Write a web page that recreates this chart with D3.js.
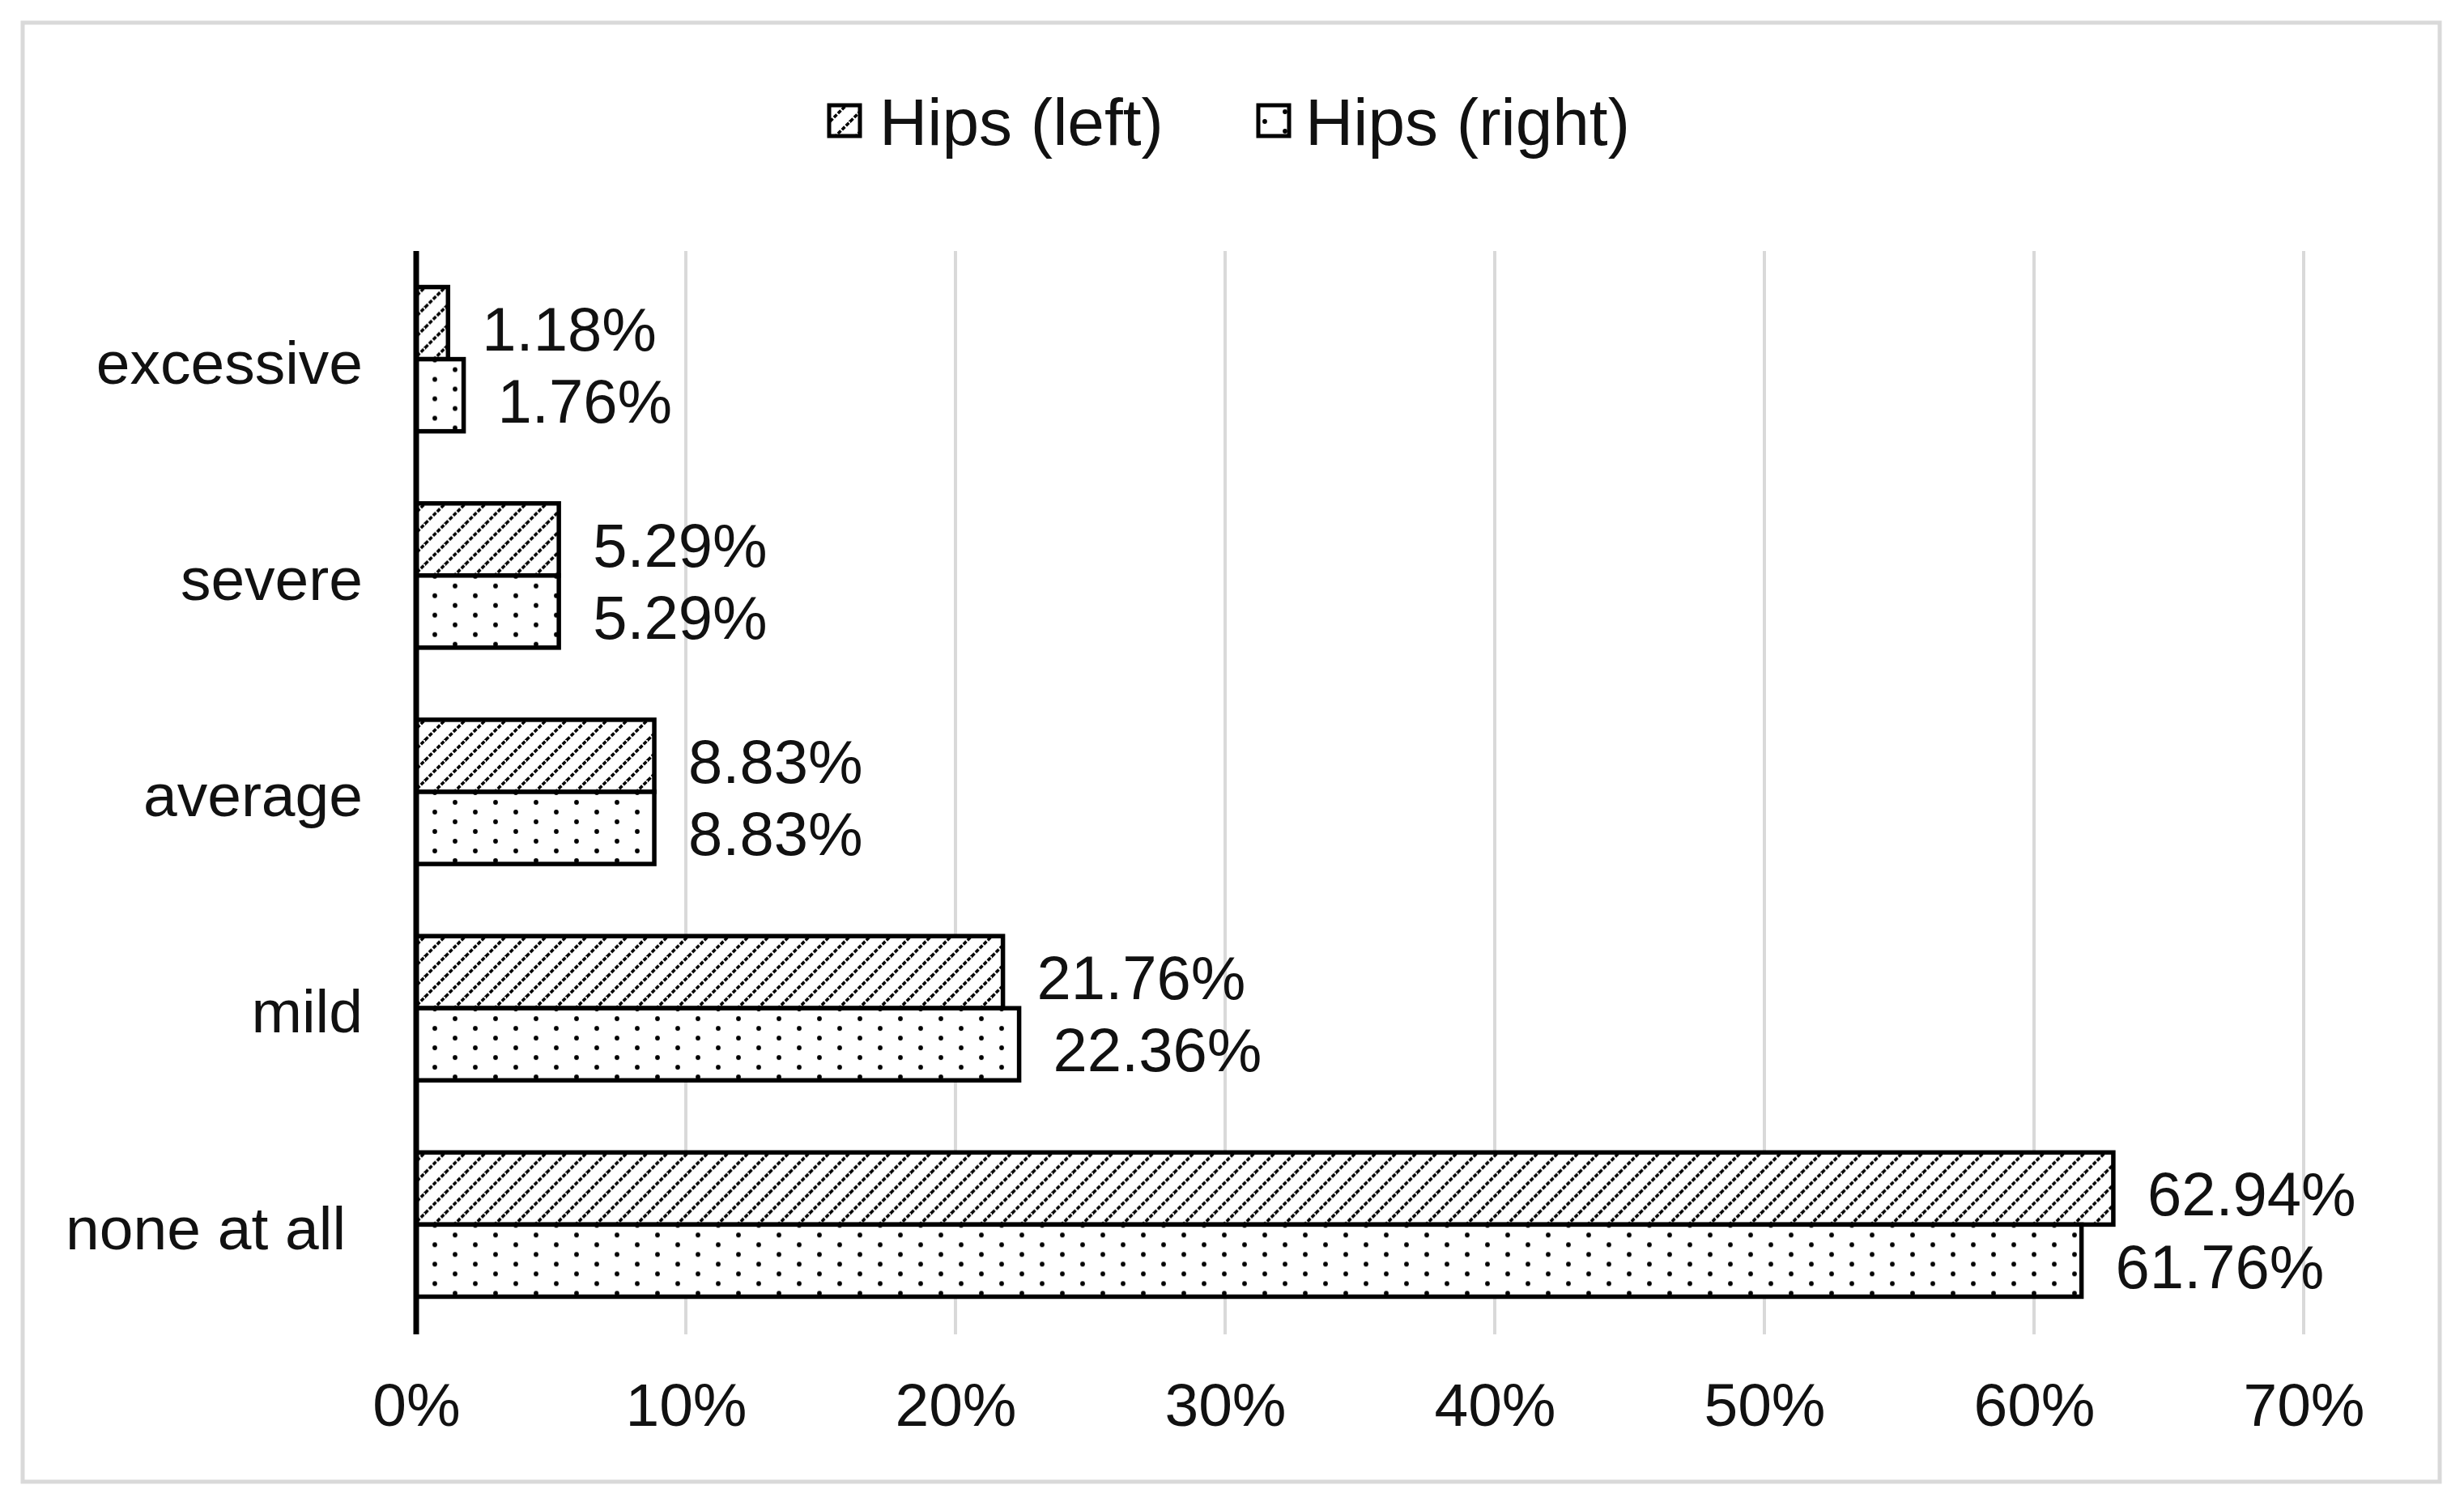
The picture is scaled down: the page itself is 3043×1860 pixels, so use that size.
<!DOCTYPE html>
<html>
<head>
<meta charset="utf-8">
<script src="https://cdn.jsdelivr.net/npm/d3@7"></script>
<style>
  html, body { margin: 0; padding: 0; background: #fff; }
  svg text { font-family: "Liberation Sans", Arial, sans-serif; fill: #111; }
</style>
</head>
<body>
<svg id="chart" width="3043" height="1860"></svg>
<script>
// ---- data ----
const categories = ["excessive", "severe", "average", "mild", "none at all"];
const seriesNames = ["Hips (left)", "Hips (right)"];
const hipsLeft  = [1.18, 5.29, 8.83, 21.76, 62.94];
const hipsRight = [1.76, 5.29, 8.83, 22.36, 61.76];
const xTicks = [0, 10, 20, 30, 40, 50, 60, 70];

const seriesValues = [hipsLeft, hipsRight];
const rows = categories.map((c, i) => ({
  cat: c,
  vals: seriesNames.map((s, k) => ({ series: s, k, v: seriesValues[k][i] }))
}));

const svg = d3.select("#chart");
const W = 3043, H = 1860;
svg.append("rect").attr("x", 0).attr("y", 0).attr("width", W).attr("height", H).attr("fill", "#fff");

// ---- patterns ----
const defs = svg.append("defs");
const hatch = defs.append("pattern").attr("id", "hatch").attr("patternUnits", "userSpaceOnUse")
  .attr("width", 25).attr("height", 25);
hatch.append("rect").attr("width", 25).attr("height", 25).attr("fill", "#fff");
hatch.append("path").attr("d", "M-6,6 L6,-6 M0,25 L25,0 M19,31 L31,19")
  .attr("stroke", "#000").attr("stroke-width", 3.6).attr("stroke-dasharray", "5,2");

const dots = defs.append("pattern").attr("id", "dots").attr("patternUnits", "userSpaceOnUse")
  .attr("width", 50).attr("height", 24);
dots.append("rect").attr("width", 50).attr("height", 24).attr("fill", "#fff");
dots.append("circle").attr("cx", 12).attr("cy", 6).attr("r", 2.9).attr("fill", "#000");
dots.append("circle").attr("cx", 37).attr("cy", 18).attr("r", 2.9).attr("fill", "#000");

const fills = ["url(#hatch)", "url(#dots)"];

// ---- frame ----
svg.append("rect").attr("x", 28).attr("y", 28).attr("width", 2985).attr("height", 1802)
  .attr("fill", "none").attr("stroke", "#d9d9d9").attr("stroke-width", 5);

// ---- scales ----
const x = d3.scaleLinear().domain([0, 70]).range([514, 2845]);
const y0 = d3.scaleBand().domain(categories).range([310, 1646])
  .paddingInner(1/3).paddingOuter(1/6);
const y1 = d3.scaleBand().domain(seriesNames).range([0, y0.bandwidth()]);

// ---- gridlines ----
svg.append("g").selectAll("line").data(xTicks).join("line")
  .attr("x1", d => x(d)).attr("x2", d => x(d))
  .attr("y1", 310).attr("y2", 1648)
  .attr("stroke", "#d9d9d9").attr("stroke-width", 4);

// ---- x tick labels ----
const xAxis = d3.axisBottom(x).tickValues(xTicks).tickFormat(d => d + "%").tickSize(0).tickPadding(0);
const gx = svg.append("g").attr("transform", "translate(0,1735)").call(xAxis);
gx.select(".domain").remove();
gx.selectAll("text").attr("font-size", 75).attr("dy", "0.35em").attr("y", 0)
  .style("font-family", "'Liberation Sans', Arial, sans-serif").attr("fill", "#111");

// ---- bars ----
const groups = svg.append("g").selectAll("g").data(rows).join("g")
  .attr("transform", d => `translate(0,${y0(d.cat)})`);

groups.selectAll("rect").data(d => d.vals).join("rect")
  .attr("x", x(0))
  .attr("y", d => y1(d.series))
  .attr("width", d => x(d.v) - x(0))
  .attr("height", y1.bandwidth())
  .attr("fill", d => fills[d.k])
  .attr("stroke", "#000").attr("stroke-width", 5.5);

groups.selectAll("text").data(d => d.vals).join("text")
  .attr("x", d => x(d.v) + 42)
  .attr("y", d => y1(d.series) + y1.bandwidth() / 2 + 7)
  .attr("dy", "0.35em")
  .attr("font-size", 76)
  .text(d => d.v.toFixed(2) + "%");

// ---- y axis ----
const yAxis = d3.axisLeft(y0).tickSize(0).tickPadding(0);
const gy = svg.append("g").attr("transform", "translate(448,4)").call(yAxis);
gy.select(".domain").remove();
gy.selectAll("text").attr("font-size", 75).attr("x", 0).attr("dy", "0.35em")
  .style("font-family", "'Liberation Sans', Arial, sans-serif").attr("fill", "#111")
  .style("white-space", "pre")
  .text(d => d === "none at all" ? "none at all " : d);

svg.append("line").attr("x1", x(0)).attr("x2", x(0)).attr("y1", 310).attr("y2", 1648)
  .attr("stroke", "#000").attr("stroke-width", 7);

// ---- legend ----
const legendItems = [
  { name: seriesNames[0], fill: fills[0], sx: 1024, tx: 1086 },
  { name: seriesNames[1], fill: fills[1], sx: 1554, tx: 1612 }
];
const lg = svg.append("g");
lg.selectAll("rect").data(legendItems).join("rect")
  .attr("x", d => d.sx).attr("y", 130).attr("width", 38).attr("height", 38)
  .attr("fill", d => d.fill).attr("stroke", "#000").attr("stroke-width", 5);
lg.selectAll("text").data(legendItems).join("text")
  .attr("x", d => d.tx).attr("y", 150).attr("dy", "0.35em")
  .attr("font-size", 82).text(d => d.name);
</script>
</body>
</html>
